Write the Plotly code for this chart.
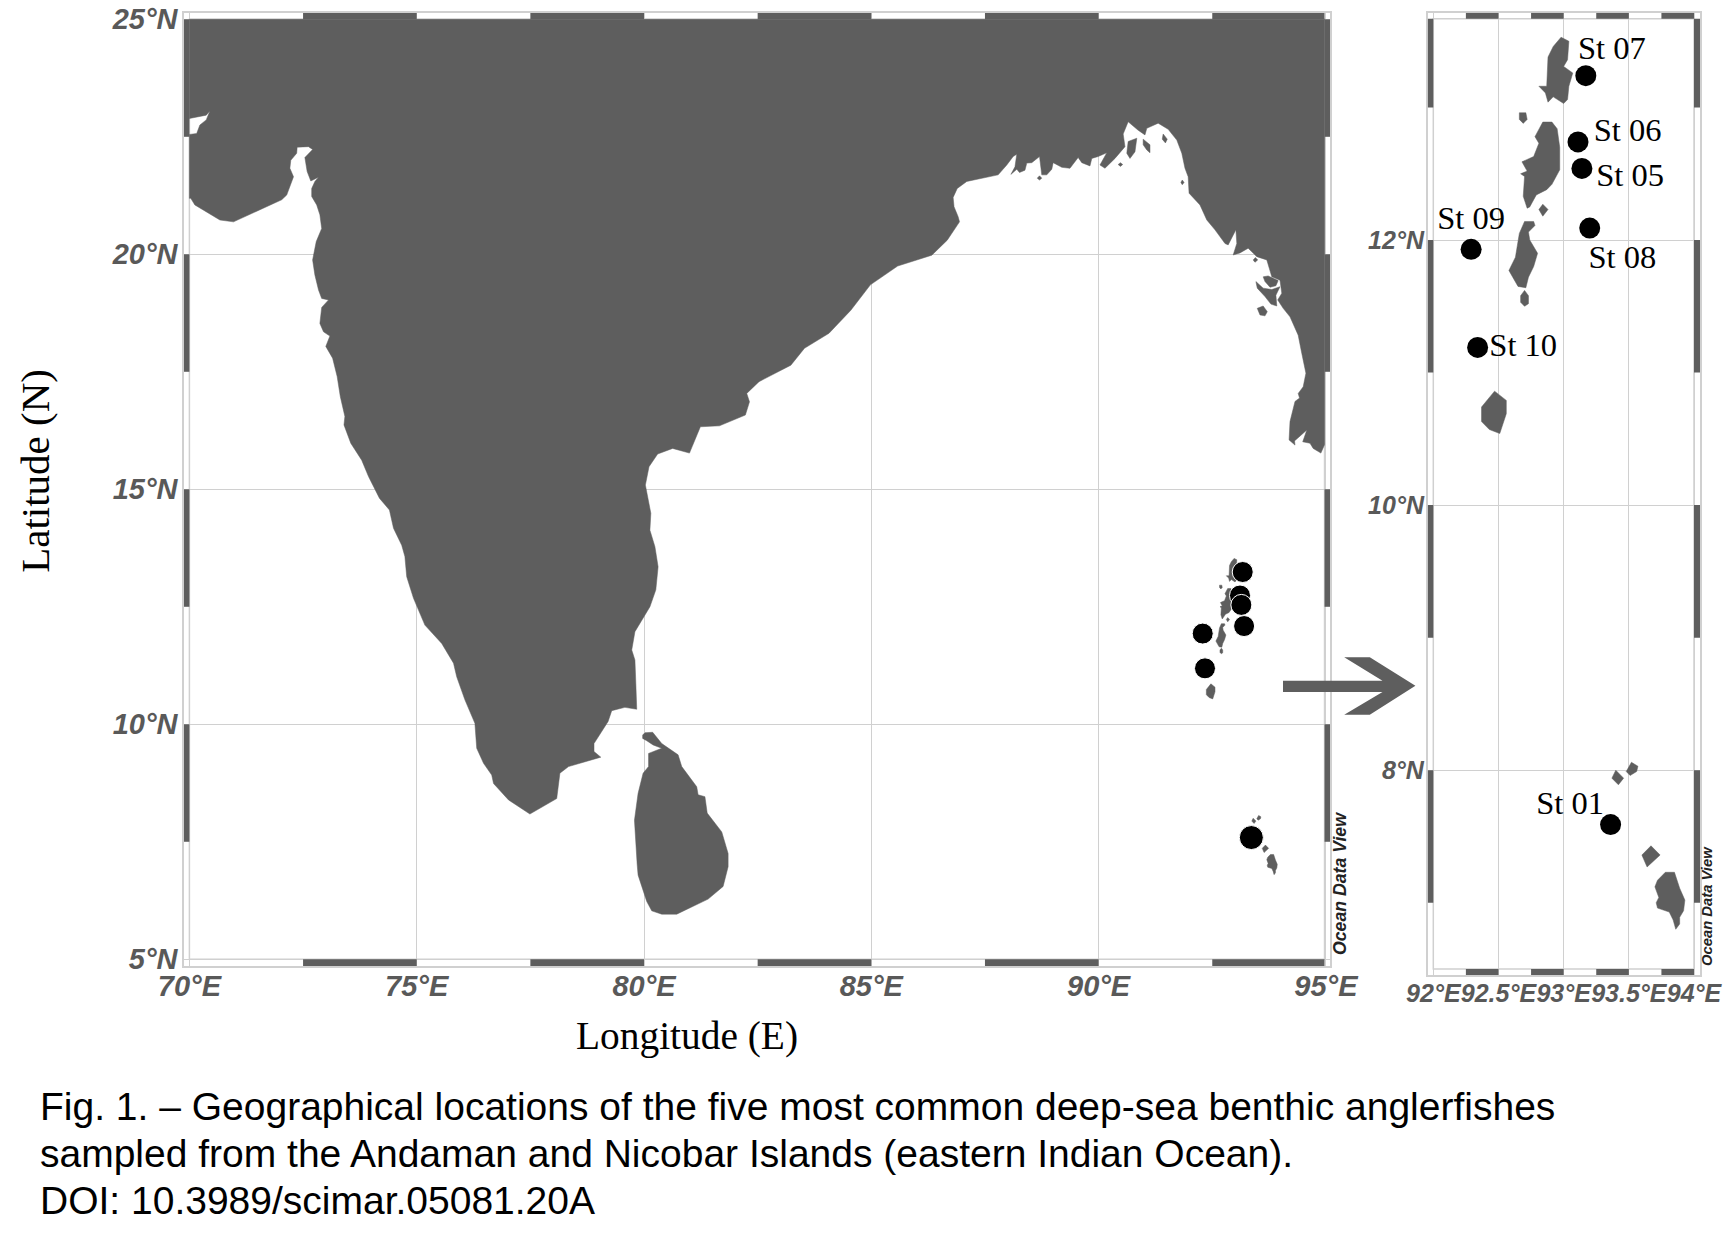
import plotly.graph_objects as go

# outlines are (lon, lat)
mainland = [
    (70, 25), (70, 22.89), (70.37, 22.96), (70.45, 23.05), (70.37, 22.86), (70.23, 22.75), (70.16, 22.57),
    (70, 22.55), (70, 21.19), (70.03, 21.19), (70.12, 21.05), (70.38, 20.89), (70.67, 20.73), (70.97, 20.69),
    (71.33, 20.85), (71.92, 21.12), (72.03, 21.16), (72.14, 21.26), (72.29, 21.65), (72.21, 21.83), (72.23, 22.0),
    (72.36, 22.15), (72.37, 22.28), (72.62, 22.29), (72.71, 22.23), (72.54, 22.06), (72.59, 21.76), (72.67, 21.56),
    (72.84, 21.64), (72.76, 21.55), (72.69, 21.4), (72.69, 21.23), (72.8, 21.05), (72.87, 20.84), (72.91, 20.55),
    (72.79, 20.27), (72.71, 19.88), (72.76, 19.56), (72.84, 19.24), (72.91, 19.06), (73.06, 19.03), (72.91, 18.87),
    (72.87, 18.53), (72.95, 18.35), (73.09, 18.26), (73.0, 18.04), (73.15, 17.79),
    (73.25, 17.4), (73.32, 16.97), (73.42, 16.55), (73.4, 16.37), (73.55, 15.98), (73.79, 15.62),
    (73.94, 15.27), (74.18, 14.81), (74.4, 14.56), (74.49, 14.17), (74.67, 13.81), (74.74, 13.57),
    (74.78, 13.14), (74.93, 12.68), (75.18, 12.11), (75.55, 11.72), (75.81, 11.3), (75.88, 11.01),
    (76.06, 10.52), (76.28, 10.02), (76.32, 9.49), (76.47, 9.17), (76.65, 8.92), (76.69, 8.74),
    (77.02, 8.39), (77.49, 8.09), (78.08, 8.42), (78.15, 8.96), (78.34, 9.1), (79.05, 9.3), (78.9, 9.42),
    (78.9, 9.59), (79.21, 10.06), (79.29, 10.29), (79.58, 10.36), (79.84, 10.32), (79.82, 10.87),
    (79.8, 11.37), (79.73, 11.58), (79.8, 11.97), (80.13, 12.5), (80.26, 12.86), (80.31, 13.35),
    (80.24, 13.78), (80.13, 14.13), (80.15, 14.49), (80.03, 15.09), (80.11, 15.48), (80.3, 15.75),
    (80.63, 15.87), (81.0, 15.77), (81.15, 16.12), (81.24, 16.33), (81.66, 16.35), (82.23, 16.58),
    (82.32, 16.86), (82.26, 17.04), (82.53, 17.29), (83.23, 17.64), (83.53, 18.0), (84.07, 18.32),
    (84.55, 18.81), (84.98, 19.35), (85.58, 19.75), (86.33, 19.98), (86.67, 20.3), (86.94, 20.69),
    (86.91, 20.8), (86.82, 21.01), (86.8, 21.21), (86.89, 21.4), (87.1, 21.55), (87.79, 21.69), (87.98, 21.9),
    (88.12, 22.08), (88.2, 22.13), (88.16, 21.86), (88.07, 21.7), (88.2, 21.81), (88.26, 21.74), (88.38, 21.79),
    (88.42, 21.94), (88.53, 21.95), (88.7, 22.08), (88.73, 21.9), (88.75, 21.69), (88.86, 21.69), (88.97, 21.81),
    (89.0, 21.95), (89.19, 21.85), (89.37, 21.83), (89.55, 22.06), (89.63, 21.95), (89.81, 21.88), (89.85, 22.04),
    (89.99, 22.08), (90.18, 22.16), (90.03, 21.9), (90.14, 21.83), (90.36, 22.04), (90.58, 22.29), (90.54, 22.56),
    (90.65, 22.82), (90.87, 22.64), (91.02, 22.54), (91.06, 22.68), (91.31, 22.79), (91.53, 22.66), (91.72, 22.43),
    (91.83, 22.15), (91.9, 21.83), (91.97, 21.65), (91.99, 21.3), (92.23, 21.05), (92.38, 20.73), (92.56, 20.52),
    (92.78, 20.23), (92.85, 20.2), (93.02, 20.52), (93.04, 20.23), (92.96, 19.985), (93.11, 20.03), (93.29, 20.13),
    (93.48, 19.95), (93.7, 19.88), (93.81, 19.52), (93.99, 19.45), (94.03, 19.17), (93.94, 19.03), (94.06, 18.85),
    (94.21, 18.67), (94.39, 18.28), (94.47, 17.89), (94.56, 17.47), (94.5, 17.18), (94.39, 17.04), (94.42, 16.94),
    (94.32, 16.87), (94.21, 16.44), (94.19, 16.05), (94.32, 15.94), (94.31, 16.03), (94.58, 16.26), (94.49, 16.01),
    (94.65, 15.98), (94.72, 15.87), (94.89, 15.77), (94.97, 15.95), (94.97, 25),
]
sri_lanka = [
    (79.97, 9.77), (80.02, 9.82), (80.19, 9.83), (80.39, 9.59), (80.75, 9.35), (80.83, 9.1), (81.16, 8.67),
    (81.19, 8.5), (81.34, 8.46), (81.39, 8.11), (81.71, 7.71), (81.85, 7.25), (81.85, 6.97), (81.74, 6.55),
    (81.41, 6.28), (80.72, 5.96), (80.39, 5.96), (80.17, 6.03), (80.06, 6.23), (79.87, 6.79), (79.85, 7.01),
    (79.8, 7.68), (79.79, 7.96), (79.87, 8.53), (79.98, 8.96), (80.1, 9.1), (80.1, 9.38), (80.39, 9.49),
    (80.2, 9.56), (80.06, 9.65), (79.97, 9.7),
]
ramree_a = [(93.62, 19.52), (93.73, 19.54), (93.95, 19.44), (93.9, 19.33), (93.77, 19.3), (93.66, 19.42)]
ramree_b = [(93.46, 19.42), (93.62, 19.28), (93.81, 19.25), (93.99, 19.31), (93.9, 19.13), (93.92, 18.9),
            (93.79, 18.94), (93.66, 19.1), (93.49, 19.28)]
cheduba = [(93.49, 18.85), (93.62, 18.9), (93.71, 18.78), (93.66, 18.69), (93.55, 18.71)]
bhola = [(90.65, 22.4), (90.84, 22.47), (90.8, 22.18), (90.69, 22.04), (90.62, 22.15)]
delta_a = [(90.98, 22.45), (91.13, 22.33), (91.13, 22.16), (91.06, 22.22), (90.98, 22.33)]
delta_b = [(91.42, 22.56), (91.51, 22.45), (91.47, 22.37), (91.4, 22.45)]
speck_a = [(88.65, 21.62), (88.7, 21.67), (88.75, 21.62), (88.7, 21.58)]
speck_b = [(90.43, 21.91), (90.48, 21.95), (90.53, 21.91), (90.48, 21.87)]
speck_c = [(91.81, 21.53), (91.84, 21.58), (91.88, 21.53), (91.84, 21.48)]
speck_d = [(93.4, 19.88), (93.45, 19.93), (93.5, 19.88), (93.44, 19.83)]

north_andaman = [
    (92.98, 13.53), (93.04, 13.5), (93.03, 13.36), (93.0, 13.31), (93.07, 13.26), (93.04, 13.16), (93.03, 13.06),
    (93.0, 13.03), (92.92, 13.08), (92.88, 13.04), (92.86, 13.11), (92.81, 13.16), (92.87, 13.16), (92.88, 13.38),
    (92.92, 13.46),
]
interview = [(92.66, 12.96), (92.71, 12.96), (92.72, 12.91), (92.69, 12.88), (92.66, 12.91)]
middle_andaman = [
    (92.84, 12.89), (92.91, 12.89), (92.95, 12.84), (92.97, 12.7), (92.97, 12.53), (92.91, 12.42), (92.87, 12.38),
    (92.79, 12.34), (92.74, 12.25), (92.72, 12.24), (92.69, 12.33), (92.7, 12.48), (92.67, 12.5), (92.72, 12.52),
    (92.68, 12.59), (92.77, 12.63), (92.81, 12.73), (92.78, 12.78),
]
baratang = [(92.84, 12.27), (92.88, 12.23), (92.84, 12.18), (92.81, 12.23)]
south_andaman = [
    (92.7, 12.14), (92.77, 12.14), (92.78, 12.11), (92.73, 12.06), (92.74, 12.0), (92.8, 11.9), (92.77, 11.8),
    (92.73, 11.72), (92.71, 11.64), (92.65, 11.65), (92.58, 11.77), (92.63, 11.87), (92.66, 12.05),
]
rutland = [(92.7, 11.62), (92.73, 11.58), (92.73, 11.52), (92.7, 11.5), (92.67, 11.53), (92.67, 11.58)]
little_andaman = [
    (92.47, 10.86), (92.56, 10.79), (92.56, 10.69), (92.51, 10.54), (92.43, 10.57), (92.37, 10.63), (92.37, 10.74),
]
car_nicobar = [(93.52, 8.06), (93.57, 8.03), (93.56, 7.99), (93.51, 7.96), (93.48, 7.99)]
chowra = [(93.4, 8.0), (93.46, 7.94), (93.42, 7.89), (93.37, 7.94)]
nancowry = [(93.67, 7.43), (93.74, 7.36), (93.64, 7.27), (93.6, 7.36)]
great_nicobar = [
    (93.78, 7.23), (93.85, 7.23), (93.89, 7.11), (93.93, 7.02), (93.92, 6.94), (93.89, 6.89), (93.89, 6.84),
    (93.86, 6.8), (93.84, 6.87), (93.81, 6.93), (93.72, 6.96), (93.71, 7.0), (93.73, 7.04), (93.7, 7.12), (93.72, 7.17),
]

stations = ["St 07", "St 06", "St 05", "St 08", "St 09", "St 10", "St 01"]
station_lon = [93.17, 93.11, 93.14, 93.20, 92.29, 92.34, 93.36]
station_lat = [13.24, 12.74, 12.54, 12.09, 11.93, 11.19, 7.59]
label_lon = [93.37, 93.49, 93.51, 93.45, 92.29, 92.69, 93.05]
label_lat = [13.43, 12.805, 12.467, 11.853, 12.143, 11.185, 7.73]
main_marker_sizes = [21, 21, 21, 21, 21, 21, 24]

main_lon_ticks = [70, 75, 80, 85, 90, 95]
main_lon_labels = ["70°E", "75°E", "80°E", "85°E", "90°E", "95°E"]
main_lat_ticks = [5, 10, 15, 20, 25]
main_lat_labels = ["5°N", "10°N", "15°N", "20°N", "25°N"]
inset_lon_ticks = [92, 92.5, 93, 93.5, 94]
inset_lon_labels = ["92°E", "92.5°E", "93°E", "93.5°E", "94°E"]
inset_lat_ticks = [8, 10, 12]
inset_lat_labels = ["8°N", "10°N", "12°N"]

# dark pieces of the checkered frame, given by where each starts
main_band_lon = [72.5, 77.5, 82.5, 87.5, 92.5]
main_band_lat = [22.5, 17.5, 12.5, 7.5]
inset_band_lon = [92.25, 92.75, 93.25, 93.75]
inset_band_lat = [7, 9, 11, 13]

caption = [
    "Fig. 1. – Geographical locations of the five most common deep-sea benthic anglerfishes",
    "sampled from the Andaman and Nicobar Islands (eastern Indian Ocean).",
    "DOI: 10.3989/scimar.05081.20A",
]
caption_y = [1106, 1153.5, 1200]

W, H = 1732, 1248
GREY = "#5e5e5e"
LINE = "#d0d0d0"
TICK = "#595959"

# arrow between the two maps, in picture pixels
arrow_px = [
    (1283, 680.7), (1382.5, 680.7), (1344.2, 657.3), (1369.8, 657.3), (1415.4, 685.7),
    (1369.8, 714.7), (1344.2, 714.7), (1382.5, 692), (1283, 692),
]


def outline(polys):
    xs, ys = [], []
    for poly in polys:
        xs += [p[0] for p in poly] + [poly[0][0], None]
        ys += [p[1] for p in poly] + [poly[0][1], None]
    return xs, ys


def land_trace(polys, xa, ya):
    xs, ys = outline(polys)
    return go.Scatter(x=xs, y=ys, xaxis=xa, yaxis=ya, mode="lines", fill="toself", fillcolor=GREY,
                      line=dict(color=GREY, width=0.5), hoverinfo="skip", showlegend=False)


def frame_shapes(xa, ya, lon_starts, lon_w, lat_starts, lat_w, box, outer):
    x0, x1, y0, y1 = box
    ox0, ox1, oy0, oy1 = outer
    out = []
    style = dict(xref=xa, yref=ya, type="rect", fillcolor=GREY, line=dict(width=0))
    for lon in lon_starts:
        out.append(dict(x0=lon, x1=min(lon + lon_w, x1), y0=oy0, y1=y0, **style))
        out.append(dict(x0=lon, x1=min(lon + lon_w, x1), y0=y1, y1=oy1, **style))
    for lat in lat_starts:
        top = min(lat + lat_w, y1)
        out.append(dict(x0=ox0, x1=x0, y0=lat, y1=top, **style))
        out.append(dict(x0=x1, x1=ox1, y0=lat, y1=top, **style))
    out.append(dict(xref=xa, yref=ya, type="rect", x0=x0, x1=x1, y0=y0, y1=y1, layer="below",
                    line=dict(color=LINE, width=1.5)))
    return out


islands = [north_andaman, interview, middle_andaman, baratang, south_andaman, rutland, little_andaman,
           car_nicobar, chowra, nancowry, great_nicobar]
main_land = [mainland, sri_lanka, ramree_a, ramree_b, cheduba, bhola, delta_a, delta_b,
             speck_a, speck_b, speck_c, speck_d]

fig = go.Figure()
fig.add_trace(land_trace(main_land + islands, "x", "y"))
fig.add_trace(go.Scatter(x=station_lon, y=station_lat, mode="markers", xaxis="x", yaxis="y", showlegend=False,
                         marker=dict(color="black", size=main_marker_sizes, opacity=1), hoverinfo="skip"))
fig.add_trace(land_trace(islands, "x2", "y2"))
fig.add_trace(go.Scatter(x=station_lon, y=station_lat, mode="markers", xaxis="x2", yaxis="y2", showlegend=False,
                         marker=dict(color="black", size=21), hovertext=stations))
fig.add_trace(go.Scatter(x=label_lon, y=label_lat, mode="text", text=stations, xaxis="x2", yaxis="y2",
                         textposition="middle center", showlegend=False, hoverinfo="skip",
                         textfont=dict(family="Liberation Serif", size=32.5, color="black")))


def tick_font(size):
    return dict(family="Liberation Sans", size=size, color=TICK, weight="bold", style="italic")


axis_common = dict(showgrid=True, gridcolor=LINE, gridwidth=1.2, zeroline=False, showline=True, mirror=True,
                   linecolor=LINE, linewidth=1.5, ticks="", fixedrange=True, automargin=False)

main_box = (70, 94.97, 5, 25)
main_outer = (69.881, 95.09, 4.857, 25.134)
inset_box = (92, 94, 6.5, 13.67)
inset_outer = (91.957, 94.046, 6.455, 13.715)

shapes = frame_shapes("x", "y", main_band_lon, 2.5, main_band_lat, 2.5, main_box, main_outer)
shapes += frame_shapes("x2", "y2", inset_band_lon, 0.25, inset_band_lat, 1, inset_box, inset_outer)
shapes.append(dict(type="path", xref="paper", yref="paper", fillcolor=GREY, line=dict(width=0),
                   path="M" + " L".join(f"{x / W:.5f},{1 - y / H:.5f}" for x, y in arrow_px) + " Z"))


def note(text, x, y, font, angle=0, xanchor="center"):
    return dict(text=text, xref="paper", yref="paper", x=x / W, y=1 - y / H, xanchor=xanchor, yanchor="middle",
                textangle=angle, showarrow=False, font=font)


annotations = []
for text, y in zip(caption, caption_y):
    annotations.append(note(text, 38, y, dict(family="Liberation Sans", size=39, color="black"), xanchor="left"))
odv_font = dict(family="Liberation Sans", color="#222222", weight="bold", style="italic")
annotations.append(note("Ocean Data View", 1340, 884, dict(size=17.7, **odv_font), angle=-90))
annotations.append(note("Ocean Data View", 1707, 906, dict(size=14.8, **odv_font), angle=-90))
annotations.append(note("Longitude (E)", 687, 1036, dict(family="Liberation Serif", size=39.4, color="black")))
annotations.append(note("Latitude (N)", 35.3, 470.5, dict(family="Liberation Serif", size=41, color="black"), angle=-90))

fig.update_layout(
    width=W, height=H, margin=dict(l=0, r=0, t=0, b=0), paper_bgcolor="white", plot_bgcolor="white",
    showlegend=False, shapes=shapes, annotations=annotations,
    xaxis=dict(domain=[184 / W, 1330 / W], range=[main_outer[0], main_outer[1]], tickmode="array",
               tickvals=main_lon_ticks, ticktext=main_lon_labels, tickfont=tick_font(29), ticklabelstandoff=-7,
               anchor="y", **axis_common),
    yaxis=dict(domain=[1 - 966 / H, 1 - 13 / H], range=[main_outer[2], main_outer[3]], tickmode="array",
               tickvals=main_lat_ticks, ticktext=main_lat_labels, tickfont=tick_font(29), ticklabelstandoff=-1,
               anchor="x", **axis_common),
    xaxis2=dict(domain=[1427.7 / W, 1700 / W], range=[inset_outer[0], inset_outer[1]], tickmode="array",
                tickvals=inset_lon_ticks, ticktext=inset_lon_labels, tickfont=tick_font(25), ticklabelstandoff=-5,
                tickangle=0, anchor="y2", **axis_common),
    yaxis2=dict(domain=[1 - 975 / H, 1 - 12.7 / H], range=[inset_outer[2], inset_outer[3]], tickmode="array",
                tickvals=inset_lat_ticks, ticktext=inset_lat_labels, tickfont=tick_font(25), ticklabelstandoff=-3,
                anchor="x2", **axis_common),
)

fig.write_html("out.html", config=dict(displayModeBar=False), post_script="document.body.style.margin='0';")
